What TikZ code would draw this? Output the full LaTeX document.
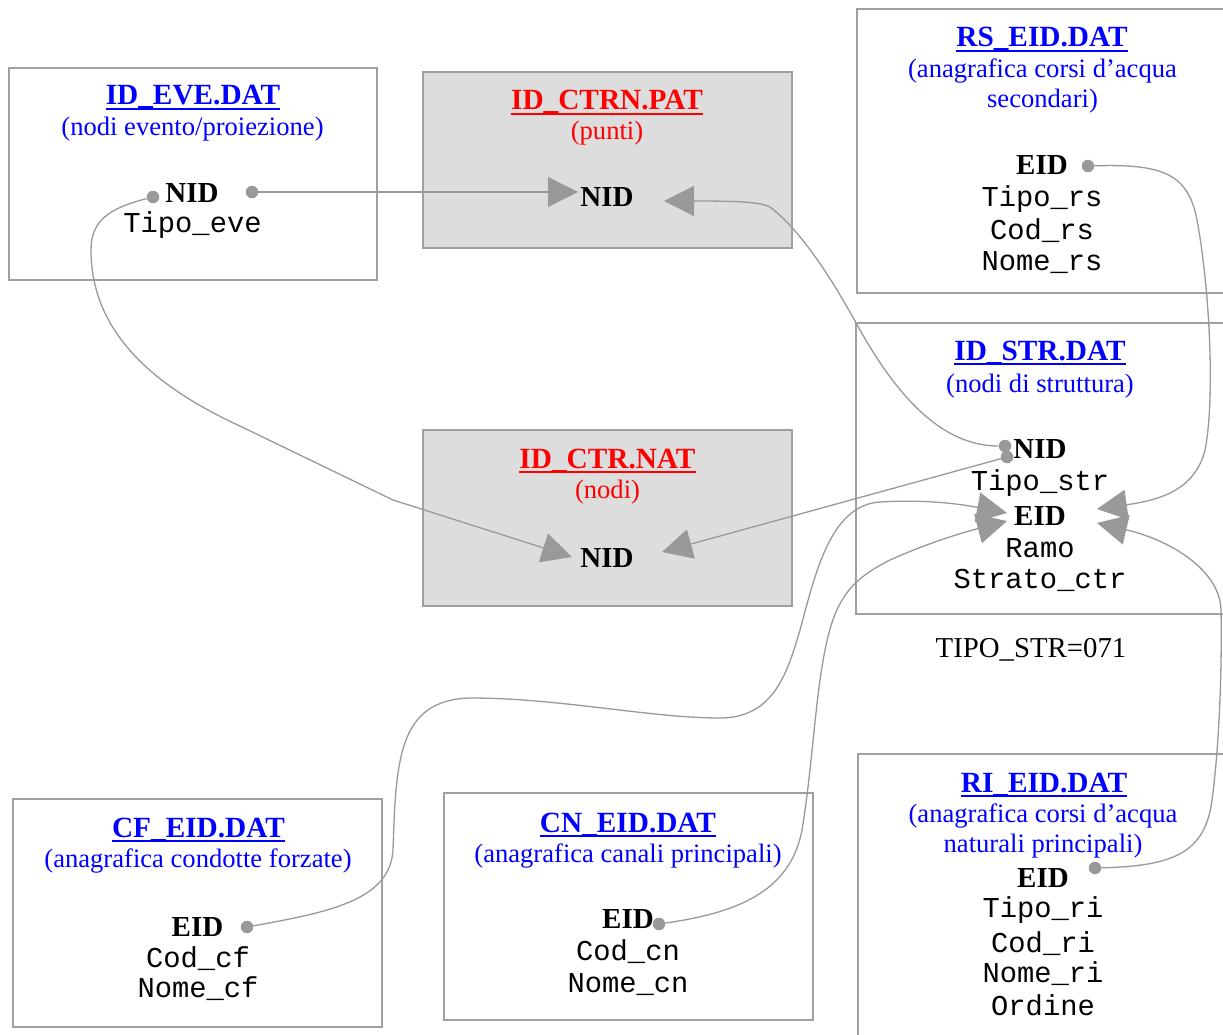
\documentclass[tikz,border=0pt]{standalone}
\usepackage{fontspec}
\setmainfont{Liberation Serif}
\newfontfamily\monof{Liberation Mono}
\usetikzlibrary{arrows.meta}
\definecolor{boxgray}{HTML}{A0A0A0}
\definecolor{linegray}{HTML}{999999}
\definecolor{fillgray}{HTML}{DDDDDD}
\definecolor{tblue}{HTML}{0000FF}
\definecolor{tred}{HTML}{FF0000}
\newcommand\ttlnode[5]{%
  \node[ttl, text=#4] (#1) at (#2,#3) {#5};
  \draw[#4, line width=2pt] ([yshift=-4pt]#1.base west) -- ([yshift=-4pt]#1.base east);
}
\begin{document}
\begin{tikzpicture}[x=1pt,y=-1pt,
  box/.style={draw=boxgray, line width=1.5pt, anchor=north west, inner sep=0pt, outer sep=0pt},
  gbox/.style={box, fill=fillgray},
  ttl/.style={anchor=base, inner sep=0pt, font=\fontsize{29.3}{32}\selectfont\bfseries},
  sub/.style={anchor=base, inner sep=0pt, font=\fontsize{26.6}{30}\selectfont},
  key/.style={anchor=base, inner sep=0pt, font=\fontsize{29}{32}\selectfont\bfseries},
  fld/.style={anchor=base, inner sep=0pt, font=\monof\fontsize{28.8}{32}\selectfont},
  plain/.style={anchor=base, inner sep=0pt, font=\fontsize{28.8}{32}\selectfont},
  link/.style={draw=linegray, line width=1.3pt},
  arr/.style={link, -{Triangle[length=30pt,width=30pt,fill=linegray]}},
  dot/.style={circle, fill=linegray, inner sep=0pt, minimum size=12.5pt}]
\clip (0,0) rectangle (1223,1035);
\fill[white] (0,0) rectangle (1223,1035);

% boxes
\node[box, minimum width=368pt, minimum height=212pt] (eve) at (9,68) {};
\node[gbox, minimum width=369pt, minimum height=176pt] (ctrn) at (423,72) {};
\node[box, minimum width=393pt, minimum height=284pt] (rs) at (857,9) {};
\node[box, minimum width=394pt, minimum height=291pt] (str) at (856,323) {};
\node[gbox, minimum width=369pt, minimum height=176pt] (ctr) at (423,430) {};
\node[box, minimum width=369pt, minimum height=228pt] (cf) at (13,799) {};
\node[box, minimum width=369pt, minimum height=227pt] (cn) at (444,793) {};
\node[box, minimum width=392pt, minimum height=306pt] (ri) at (858,754) {};

% ID_EVE
\ttlnode{eveT}{193}{105}{tblue}{ID\_EVE.DAT}
\node[sub, text=tblue] (eveS) at (192.5,136) {(nodi evento/proiezione)};
\node[key] (eveNID) at (192,203) {NID};
\node[fld] (eveF1) at (192.5,233) {Tipo\_eve};

% ID_CTRN
\ttlnode{ctrnT}{607}{110}{tred}{ID\_CTRN.PAT}
\node[sub, text=tred] (ctrnS) at (607,140) {(punti)};
\node[key] (ctrnNID) at (607,207) {NID};

% RS
\ttlnode{rsT}{1042}{47}{tblue}{RS\_EID.DAT}
\node[sub, text=tblue] (rsS1) at (1042.5,77.5) {(anagrafica corsi d’acqua};
\node[sub, text=tblue] (rsS2) at (1042.5,108) {secondari)};
\node[key] (rsEID) at (1042,175) {EID};
\node[fld] (rsF1) at (1042,207) {Tipo\_rs};
\node[fld] (rsF2) at (1042,240) {Cod\_rs};
\node[fld] (rsF3) at (1042,270) {Nome\_rs};

% ID_STR
\ttlnode{strT}{1040}{360}{tblue}{ID\_STR.DAT}
\node[sub, text=tblue] (strS) at (1040,392) {(nodi di struttura)};
\node[key] (strNID) at (1040,458) {NID};
\node[fld] (strF1) at (1040,490) {Tipo\_str};
\node[key] (strEID) at (1040,525) {EID};
\node[fld] (strF2) at (1040,557) {Ramo};
\node[fld] (strF3) at (1040,588) {Strato\_ctr};
\node[plain] (tipo) at (1031,657) {TIPO\_STR=071};

% ID_CTR
\ttlnode{ctrT}{607.5}{468}{tred}{ID\_CTR.NAT}
\node[sub, text=tred] (ctrS) at (607.5,498) {(nodi)};
\node[key] (ctrNID) at (607,567) {NID};

% CF
\ttlnode{cfT}{198.5}{837}{tblue}{CF\_EID.DAT}
\node[sub, text=tblue] (cfS) at (198,867) {(anagrafica condotte forzate)};
\node[key] (cfEID) at (197.5,936) {EID};
\node[fld] (cfF1) at (198,967) {Cod\_cf};
\node[fld] (cfF2) at (198,997) {Nome\_cf};

% CN
\ttlnode{cnT}{628}{832}{tblue}{CN\_EID.DAT}
\node[sub, text=tblue] (cnS) at (628,862) {(anagrafica canali principali)};
\node[key] (cnEID) at (628,928) {EID};
\node[fld] (cnF1) at (628,960) {Cod\_cn};
\node[fld] (cnF2) at (628,992) {Nome\_cn};

% RI
\ttlnode{riT}{1044}{792}{tblue}{RI\_EID.DAT}
\node[sub, text=tblue] (riS1) at (1043,822) {(anagrafica corsi d’acqua};
\node[sub, text=tblue] (riS2) at (1043,852) {naturali principali)};
\node[key] (riEID) at (1043,887) {EID};
\node[fld] (riF1) at (1043,917) {Tipo\_ri};
\node[fld] (riF2) at (1043,952) {Cod\_ri};
\node[fld] (riF3) at (1043,982) {Nome\_ri};
\node[fld] (riF4) at (1043,1015) {Ordine};

% dots
\node[dot] (eveDL) at (153,197) {};
\node[dot] (eveDR) at (252,192) {};
\node[dot] (rsD) at (1088,166) {};
\node[dot] (strD1) at (1005,446) {};
\node[dot] (strD2) at (1007,457) {};
\node[dot] (cfD) at (247,927) {};
\node[dot] (cnD) at (659,924) {};
\node[dot] (riD) at (1095,868) {};

% arrow tips
\coordinate (ctrnL) at (578,192);
\coordinate (ctrnR) at (664,201);
\coordinate (ctrL) at (572,557);
\coordinate (ctrR) at (662,552);
\coordinate (strL1) at (1007,513);
\coordinate (strL2) at (1007,521);
\coordinate (strR1) at (1097,509);
\coordinate (strR2) at (1097,523);

% connectors
\draw[arr] (eveDR) -- (ctrnL);
\draw[arr] (eveDL) .. controls (110,208) and (91,220) .. (91,250)
  .. controls (91,330) and (150,385) .. (242,427) -- (393,500) -- (ctrL);
\draw[arr] (strD2) -- (ctrR);
\draw[arr] (strD1) .. controls (950,446) and (905,410) .. (860,330)
  .. controls (830,275) and (800,230) .. (770,207)
  .. controls (760,202) and (740,201) .. (ctrnR);
\draw[arr] (cfD) .. controls (330,912) and (390,900) .. (393,850)
  .. controls (396,760) and (398,700) .. (470,698)
  .. controls (560,698) and (650,718) .. (720,718)
  .. controls (775,718) and (788,670) .. (800,630)
  .. controls (815,575) and (830,505) .. (880,502)
  .. controls (930,499) and (965,505) .. (strL1);
\draw[arr] (cnD) .. controls (735,913) and (790,893) .. (802,830)
  .. controls (812,770) and (815,700) .. (825,650)
  .. controls (835,600) and (850,580) .. (890,560)
  .. controls (930,542) and (965,532) .. (strL2);
\draw[arr] (rsD) .. controls (1160,164) and (1188,172) .. (1197,220)
  .. controls (1210,290) and (1215,400) .. (1205,450)
  .. controls (1195,490) and (1160,500) .. (strR1);
\draw[arr] (riD) .. controls (1170,866) and (1205,855) .. (1212,800)
  .. controls (1220,740) and (1222,660) .. (1221,610)
  .. controls (1220,570) and (1170,540) .. (strR2);
\end{tikzpicture}
\end{document}
